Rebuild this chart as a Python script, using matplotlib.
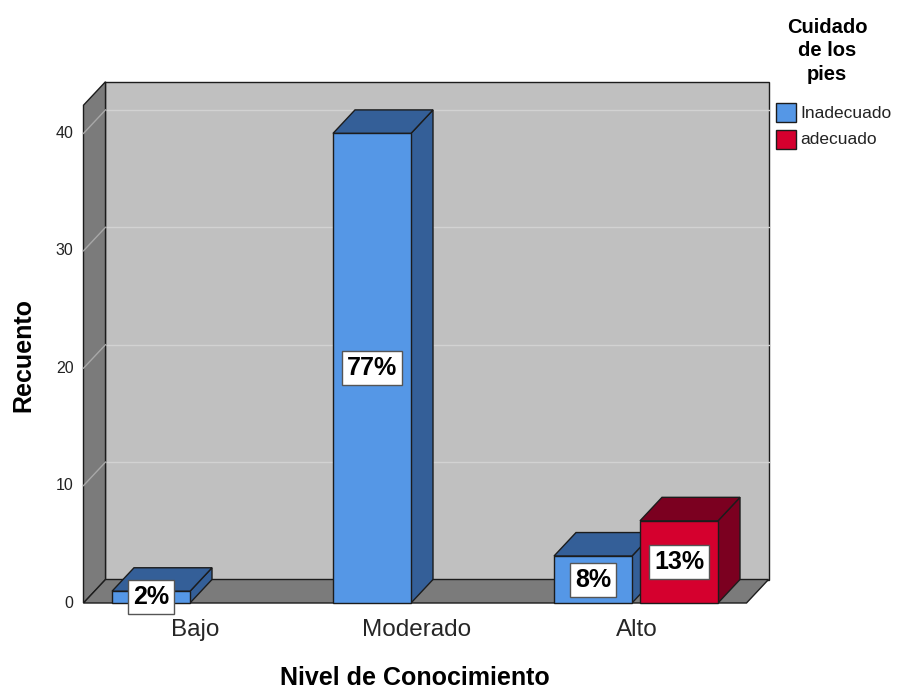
import matplotlib.pyplot as plt
from matplotlib.patches import Polygon, Rectangle

plt.rcParams["font.family"] = ["Liberation Sans", "DejaVu Sans"]

categories = ["Bajo", "Moderado", "Alto"]
series = ["Inadecuado", "adecuado"]
inadecuado = [1, 40, 4]
adecuado = [0, 0, 7]
y_ticks = [0, 10, 20, 30, 40]

front_colors = ["#5597e6", "#d5002e"]
shade_colors = ["#345f98", "#7b0020"]

W, H, DPI = 907, 690, 100
PX_PER_CAT = 221.0
PX_PER_UNIT = 11.74
ZERO_X, ZERO_Y = 194.0, 603.0  # pixel of category 0 centre at value 0

DX = 22.0 / PX_PER_CAT
DY = 23.5 / PX_PER_UNIT
Y_TOP = 42.4
X_LEFT, X_RIGHT = -0.5, 2.5
BAR_W = 78.0 / PX_PER_CAT
GAP = 8.0 / PX_PER_CAT
EDGE = "#1c1c1c"

fig = plt.figure(figsize=(W / DPI, H / DPI), dpi=DPI)
ax = fig.add_axes([0, 0, 1, 1])
ax.set_xlim(-ZERO_X / PX_PER_CAT, (W - ZERO_X) / PX_PER_CAT)
ax.set_ylim((ZERO_Y - H) / PX_PER_UNIT, ZERO_Y / PX_PER_UNIT)
ax.axis("off")


def px_x(p):
    return (p - ZERO_X) / PX_PER_CAT


def px_y(p):
    return (ZERO_Y - p) / PX_PER_UNIT


def poly(points, face, z=1, lw=1.0):
    ax.add_patch(Polygon(points, closed=True, facecolor=face, edgecolor=EDGE,
                         linewidth=lw, zorder=z, joinstyle="miter"))


# walls and floor
poly([(X_LEFT + DX, DY), (X_RIGHT + DX, DY), (X_RIGHT + DX, Y_TOP + DY),
      (X_LEFT + DX, Y_TOP + DY)], "#c0c0c0", z=1)
poly([(X_LEFT, 0), (X_LEFT + DX, DY), (X_LEFT + DX, Y_TOP + DY), (X_LEFT, Y_TOP)],
     "#7b7b7b", z=2)
poly([(X_LEFT, 0), (X_RIGHT, 0), (X_RIGHT + DX, DY), (X_LEFT + DX, DY)],
     "#7b7b7b", z=2)

for t in y_ticks[1:]:
    ax.plot([X_LEFT + DX, X_RIGHT + DX], [t + DY, t + DY], color="#d2d2d2",
            lw=1.0, zorder=1.5)
    ax.plot([X_LEFT, X_LEFT + DX], [t, t + DY], color="#a8a8a8", lw=1.0, zorder=2.5)
for t in y_ticks:
    ax.text(X_LEFT - 0.045, t, str(t), ha="right", va="center", fontsize=11.5,
            color="#222222")

total = sum(inadecuado) + sum(adecuado)


def bar3d(x0, v, s):
    x1 = x0 + BAR_W
    poly([(x1, 0), (x1 + DX, DY), (x1 + DX, v + DY), (x1, v)], shade_colors[s], z=4)
    poly([(x0, v), (x1, v), (x1 + DX, v + DY), (x0 + DX, v + DY)], shade_colors[s], z=4)
    poly([(x0, 0), (x1, 0), (x1, v), (x0, v)], front_colors[s], z=4)
    pct = round(v / total * 100)
    ax.text(x0 + BAR_W / 2, v / 2, f"{pct}%", ha="center", va="center",
            fontsize=18, fontweight="bold", zorder=6,
            bbox=dict(boxstyle="square,pad=0.2", facecolor="white",
                      edgecolor="#555555", linewidth=1))


for i, cat in enumerate(categories):
    for s, vals in enumerate([inadecuado, adecuado]):
        v = vals[i]
        if v <= 0:
            continue
        x0 = i - GAP / 2 - BAR_W if s == 0 else i + GAP / 2
        bar3d(x0, v, s)
    ax.text(i + 0.005, px_y(630), cat, ha="center", va="center",
            fontsize=17.5, color="#262626")

ax.text(px_x(415), px_y(678), "Nivel de Conocimiento", ha="center", va="center",
        fontsize=18, fontweight="bold")
ax.text(px_x(23), px_y(355), "Recuento", ha="center", va="center", rotation=90,
        fontsize=18, fontweight="bold")

# legend
fig.text(827 / W, 1 - 51 / H, "Cuidado\nde los\npies", ha="center", va="center",
         fontsize=14.5, fontweight="bold", linespacing=1.32)
for k, name in enumerate(series):
    top = 103 + k * 27
    fig.add_artist(Rectangle((776 / W, 1 - (top + 19) / H), 20 / W, 19 / H,
                             transform=fig.transFigure, facecolor=front_colors[k],
                             edgecolor=EDGE, linewidth=1))
    fig.text(800 / W, 1 - (top + 10) / H, name, ha="left", va="center",
             fontsize=12.5, color="#222222")

fig.savefig("out.png", dpi=DPI, facecolor="white")
